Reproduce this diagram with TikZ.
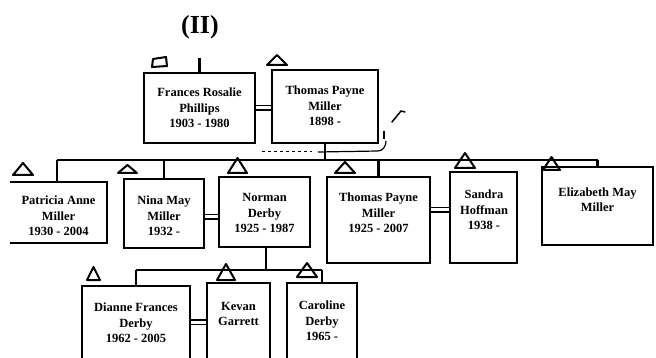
\documentclass[tikz,border=0pt]{standalone}
\usepackage{fontspec}
\setmainfont{Liberation Serif}
\newcommand\htri[4]{\draw[pen] ({#1-#3/2},#2) -- (#1,{#2-#4}) -- ({#1+#3/2},#2) -- cycle;}
\begin{document}
\begin{tikzpicture}[x=1pt,y=-1pt,
  box/.style={draw, line width=2.2pt, inner sep=0pt},
  nobox/.style={inner sep=0pt},
  txt/.style={font=\fontsize{12.5}{15.5}\selectfont\bfseries, align=center, inner sep=0pt},
  conn/.style={line width=2.2pt},
  wed/.style={line width=1.8pt, double, double distance=3pt},
  pen/.style={line width=2pt, line join=round, line cap=round}]
\useasboundingbox (0,0) rectangle (656,358);
\clip (0,0) rectangle (656,358);
% boxes
\node[box, minimum width=111pt, minimum height=70pt] (fr) at (199.5,108) {};
\node[box, minimum width=106pt, minimum height=73pt] (tp) at (325,106.5) {};
\node[nobox, minimum width=97pt, minimum height=61pt] (pa) at (58.5,212.5) {};
\node[box, minimum width=80pt, minimum height=69pt] (ni) at (164,213.5) {};
\node[box, minimum width=91pt, minimum height=70pt] (no) at (264.5,212) {};
\node[box, minimum width=103pt, minimum height=86pt] (tm) at (378.5,220) {};
\node[box, minimum width=67pt, minimum height=91pt] (sa) at (483.5,217.5) {};
\node[box, minimum width=111pt, minimum height=78pt] (el) at (597.5,206) {};
\node[box, minimum width=108pt, minimum height=84pt] (di) at (136,328) {};
\node[box, minimum width=63pt, minimum height=87pt] (ke) at (238.5,326.5) {};
\node[box, minimum width=70pt, minimum height=87pt] (ca) at (322,326.5) {};
\draw[conn] (pa.north west) -- (pa.north east) -- (pa.south east) -- (pa.south west);
% texts
\node[txt] (frt) at (199.5,108) {Frances Rosalie\\Phillips\\1903 - 1980};
\node[txt] (tpt) at (325,106) {Thomas Payne\\Miller\\1898 -};
\node[txt] (pat) at (58.5,216) {Patricia Anne\\Miller\\1930 - 2004};
\node[txt] (nit) at (164,216) {Nina May\\Miller\\1932 -};
\node[txt] (not) at (264.5,213) {Norman\\Derby\\1925 - 1987};
\node[txt] (tmt) at (378.5,213) {Thomas Payne\\Miller\\1925 - 2007};
\node[txt] (sat) at (484,210) {Sandra\\Hoffman\\1938 -};
\node[txt] (elt) at (597.5,199.5) {Elizabeth May\\Miller};
\node[txt] (dit) at (136,323) {Dianne Frances\\Derby\\1962 - 2005};
\node[txt] (ket) at (238.5,314) {Kevan\\Garrett};
\node[txt] (cat) at (322,321) {Caroline\\Derby\\1965 -};
\node[font=\fontsize{26}{26}\selectfont\bfseries, inner sep=0pt] (num) at (200,27) {(II)};
% connectors
\coordinate (frtop) at (199.5,58);
\draw[conn] (fr.north) -- (frtop);
\draw[wed] (fr.east) -- (fr.east -| tp.west);
\coordinate (barL) at (57,160);
\coordinate (barR) at (597.5,160);
\draw[conn] (tp.south) -- (tp.south |- barL);
\draw[conn] (barL) -- (barR);
\draw[conn] (pa.north -| barL) -- (barL);
\draw[conn] (ni.north) -- (ni.north |- barL);
\draw[conn] (tm.north) -- (tm.north |- barL);
\draw[conn] (el.north) -- (barR);
\draw[wed] (ni.east |- 0,217) -- (no.west |- 0,217);
\draw[wed] (tm.east |- 0,210) -- (sa.west |- 0,210);
\coordinate (bar2L) at (136,270);
\coordinate (bar2R) at (322,270);
\draw[conn] (no.south -| 266,0) -- (266,270);
\draw[conn] (bar2L) -- (bar2R);
\draw[conn] (di.north) -- (bar2L);
\draw[conn] (ca.north) -- (bar2R);
\draw[wed] (di.east |- 0,322) -- (ke.west |- 0,322);
% hand annotations
\draw[pen] (153,59) -- (166,57) -- (167,66) -- (152,67) -- cycle;
\htri{277}{65}{20}{10}
\htri{23}{175}{20}{12}
\htri{127.5}{173}{19}{8}
\htri{237.5}{173}{19}{15}
\htri{345}{173}{20}{11}
\htri{465}{168}{20}{15}
\htri{551.5}{170}{17}{13}
\htri{93.5}{280}{13}{13}
\htri{226}{280}{18}{16}
\htri{307}{277}{20}{14}
\draw[line width=1.2pt] (318,152) -- (378,151) to[out=0,in=-90] (386,141);
\draw[line width=1pt, dashed] (262,152) -- (312,152);
\draw[line width=2pt] (384,131) -- (384,139);
\draw[pen, line width=1.5pt] (392,122) -- (401,111) -- (405,112);
\end{tikzpicture}
\end{document}
